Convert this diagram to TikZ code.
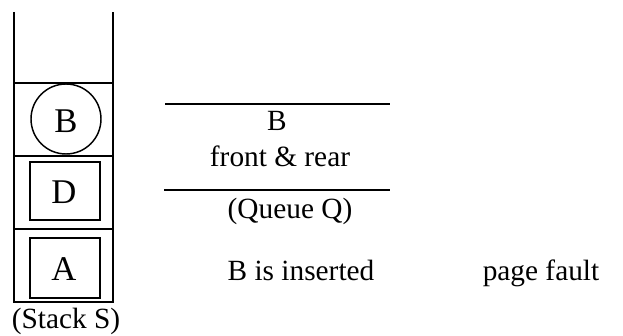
\documentclass[tikz,border=0pt]{standalone}
\usepackage{fontspec}
\setmainfont{Liberation Serif}
\usetikzlibrary{positioning}

\begin{document}
\begin{tikzpicture}[x=0.75pt,y=-0.75pt]
\tikzset{
  label/.style={inner sep=0pt,anchor=base,font=\fontsize{22}{26}\selectfont},
  page/.style={draw,inner sep=0pt,line width=1.4pt},
  letter/.style={inner sep=0pt,anchor=base,font=\fontsize{26}{30}\selectfont},
  frame/.style={line width=1.1pt},
  qline/.style={line width=1.3pt}
}
\useasboundingbox (0,0) rectangle (623,335);
% stack S
\draw[frame] (14,12) -- (14,302) -- (113,302) -- (113,12);
\foreach \yy in {83,156,229}
  \draw[frame] (14,\yy) -- (113,\yy);
\node[page,circle,line width=1.1pt,minimum size=52.5pt] (n_B) at (66,119) {};
\node[page,minimum width=52.5pt,minimum height=43.5pt] (n_D) at (65,191) {};
\node[page,minimum width=52.5pt,minimum height=45pt] (n_A) at (65,268) {};
\node[letter] (t_B) at (66,132) {B};
\node[letter] (t_D) at (64,203) {D};
\node[letter] (t_A) at (64,280) {A};
\node[label] (stackS) at (66,328) {(Stack S)};
% queue Q
\coordinate (q_tl) at (165,104);
\coordinate (q_tr) at (390,104);
\coordinate (q_bl) at (164,190);
\coordinate (q_br) at (390,190);
\draw[qline] (q_tl) -- (q_tr);
\draw[qline] (q_bl) -- (q_br);
\node[label] (q_B) at (277,130) {B};
\node[label] (q_fr) at (280,166) {front \& rear};
\node[label] (queueQ) at (290,218) {(Queue Q)};
% status
\node[label] (inserted) at (301,280) {B is inserted};
\node[label] (fault) at (541,280) {page fault};
\end{tikzpicture}
\end{document}
